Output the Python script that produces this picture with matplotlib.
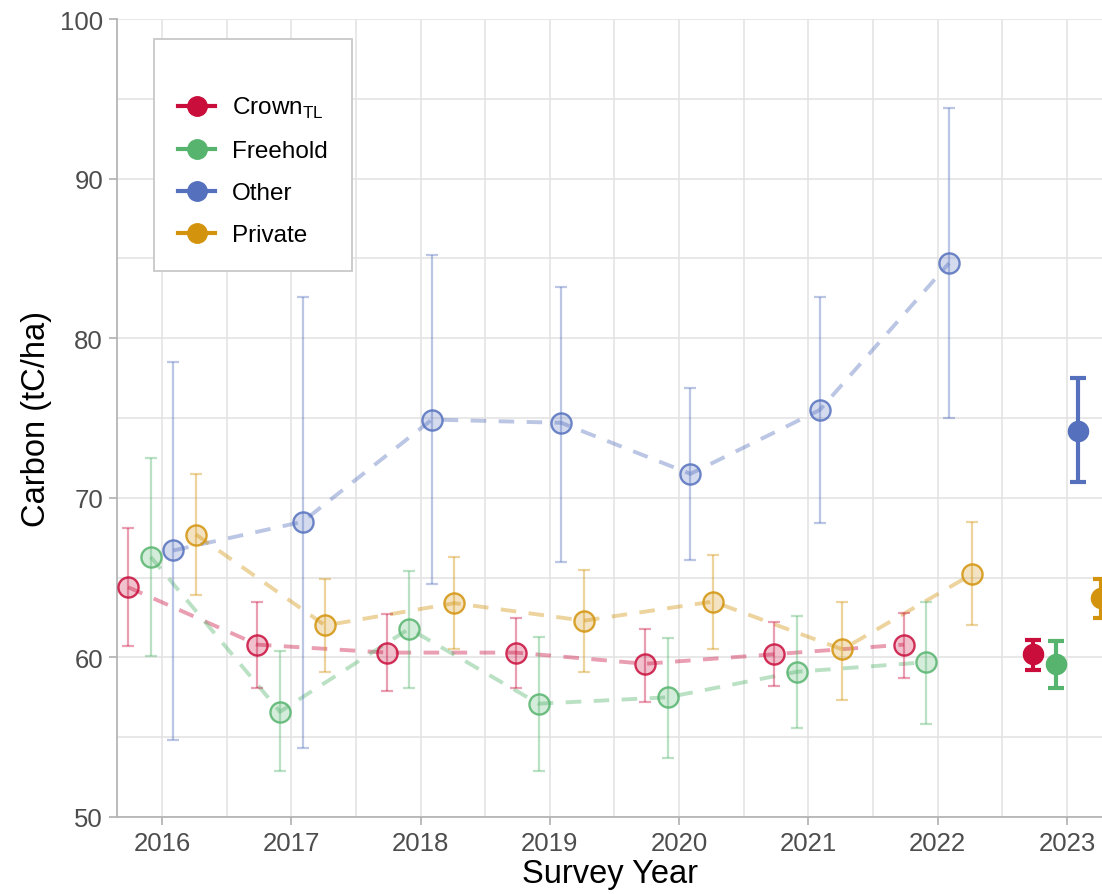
import matplotlib
matplotlib.use("Agg")
import matplotlib.pyplot as plt
from matplotlib.lines import Line2D
from matplotlib.colors import to_rgba
import numpy as np

plt.rcParams["font.family"] = ["Liberation Sans", "DejaVu Sans"]
plt.rcParams["mathtext.fontset"] = "custom"
plt.rcParams["mathtext.rm"] = "Liberation Sans"

# ---- data -------------------------------------------------------------
years = [2016, 2017, 2018, 2019, 2020, 2021, 2022, 2023]
tenures = ["Crown", "Freehold", "Other", "Private"]
legend_labels = [r"Crown$_{\mathregular{TL}}$", "Freehold", "Other", "Private"]
tenure_colors = ["#C90E3C", "#56B46E", "#5571BE", "#D3930C"]

crown_mean = [64.4, 60.8, 60.3, 60.3, 59.6, 60.2, 60.8, 60.2]
crown_low = [60.7, 58.1, 57.9, 58.1, 57.2, 58.2, 58.7, 59.2]
crown_high = [68.1, 63.5, 62.7, 62.5, 61.8, 62.2, 62.8, 61.1]

freehold_mean = [66.3, 56.6, 61.8, 57.1, 57.5, 59.1, 59.7, 59.6]
freehold_low = [60.1, 52.9, 58.1, 52.9, 53.7, 55.6, 55.8, 58.1]
freehold_high = [72.5, 60.4, 65.4, 61.3, 61.2, 62.6, 63.5, 61.0]

other_mean = [66.7, 68.5, 74.9, 74.7, 71.5, 75.5, 84.7, 74.2]
other_low = [54.8, 54.3, 64.6, 66.0, 66.1, 68.4, 75.0, 71.0]
other_high = [78.5, 82.6, 85.2, 83.2, 76.9, 82.6, 94.4, 77.5]

private_mean = [67.7, 62.0, 63.4, 62.3, 63.5, 60.5, 65.2, 63.7]
private_low = [63.9, 59.1, 60.5, 59.1, 60.5, 57.3, 62.0, 62.5]
private_high = [71.5, 64.9, 66.3, 65.5, 66.4, 63.5, 68.5, 64.9]

means = [crown_mean, freehold_mean, other_mean, private_mean]
lows = [crown_low, freehold_low, other_low, private_low]
highs = [crown_high, freehold_high, other_high, private_high]

# dodge offsets for the four tenure groups
dodge = [-0.2625, -0.0875, 0.0875, 0.2625]

# ---- figure -----------------------------------------------------------
fig = plt.figure(figsize=(11.02, 8.95), dpi=100)
ax = fig.add_axes([117 / 1102, 77 / 895, 985 / 1102, 798 / 895])

for mean, low, high, col, off in zip(means, lows, highs, tenure_colors, dodge):
    x = np.array(years, dtype=float) + off
    m = np.array(mean)
    lo = m - np.array(low)
    hi = np.array(high) - m

    # historical survey years: faded
    ax.plot(x[:-1], m[:-1], color=to_rgba(col, 0.4), lw=2.8,
            linestyle=(0, (4, 3.2)), zorder=2)
    ax.errorbar(x[:-1], m[:-1], yerr=[lo[:-1], hi[:-1]], fmt="none",
                ecolor=to_rgba(col, 0.4), elinewidth=1.6, capsize=4.3,
                capthick=1.6, zorder=3)
    ax.plot(x[:-1], m[:-1], "o", ms=14.5, mfc=to_rgba(col, 0.25),
            mec=to_rgba(col, 0.85), mew=1.7, linestyle="none", zorder=4)

    # latest survey year: solid
    ax.errorbar(x[-1:], m[-1:], yerr=[lo[-1:], hi[-1:]], fmt="none",
                ecolor=col, elinewidth=3.0, capsize=5.8, capthick=3.0,
                zorder=5)
    ax.plot(x[-1:], m[-1:], "o", ms=14.5, mfc=col, mec=col, mew=1.0,
            linestyle="none", zorder=6)

# ---- axes styling -----------------------------------------------------
ax.set_xticks(years)
ax.set_xticks(np.arange(2015.5, 2024, 1.0), minor=True)
ax.set_yticks(np.arange(50, 101, 10))
ax.set_yticks(np.arange(55, 100, 10), minor=True)
ax.set_xlim(2015.652, 2023.271)
ax.set_ylim(50, 100)

ax.grid(which="both", color="#e2e2e2", lw=1.1)
ax.set_axisbelow(True)

for side in ("top", "right"):
    ax.spines[side].set_visible(False)
for side in ("left", "bottom"):
    ax.spines[side].set_color("#b5b5b5")
    ax.spines[side].set_linewidth(1.3)

ax.tick_params(which="major", length=6, width=1.3, color="#b5b5b5",
               labelsize=18.5, labelcolor="#4d4d4d", pad=4)
ax.tick_params(which="minor", length=0)

ax.set_xlabel("Survey Year", fontsize=23.5, color="black", labelpad=2)
ax.set_ylabel("Carbon (tC/ha)", fontsize=23.5, color="black", labelpad=6)

handles = [
    Line2D([0], [0], color=c, lw=3, marker="o", ms=14, mfc=c, mec=c)
    for c in tenure_colors
]
leg = ax.legend(handles, legend_labels, loc="upper left",
                bbox_to_anchor=(0.0376, 0.975), fontsize=17.5,
                title=" ", title_fontsize=9, frameon=True, fancybox=False,
                edgecolor="#c8c8c8", framealpha=1, borderpad=1.0,
                labelspacing=0.82, handlelength=1.5, handletextpad=0.7,
                borderaxespad=0)
leg.get_frame().set_linewidth(1.3)

fig.savefig("out.png", dpi=100)
